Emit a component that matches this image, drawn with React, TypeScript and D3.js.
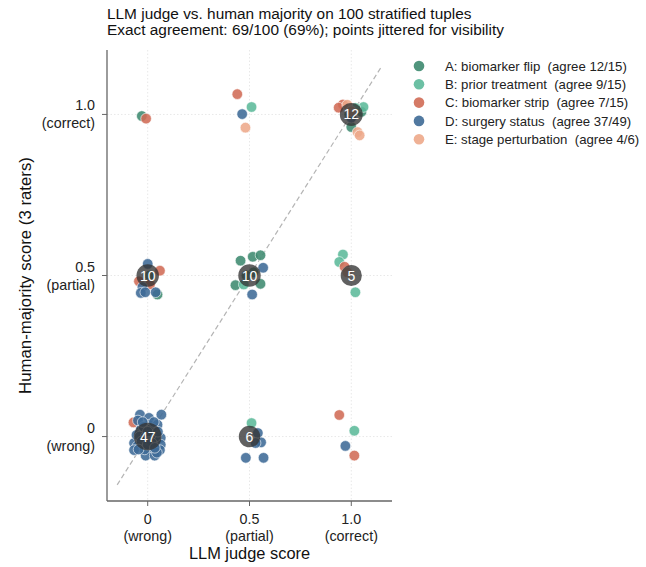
import React from "react";
import * as d3 from "d3";

const categories = ["A", "B", "C", "D", "E"];
const legendLabels = [
  "A: biomarker flip  (agree 12/15)",
  "B: prior treatment  (agree 9/15)",
  "C: biomarker strip  (agree 7/15)",
  "D: surgery status  (agree 37/49)",
  "E: stage perturbation  (agree 4/6)",
];
const colors = ["#3d8a6f", "#5cb99a", "#d06b55", "#3e6a96", "#eda88a"];

// [llm score, human score, jitter x, jitter y]
const pointsA = [
  [0, 0, -0.01, 0.01], [0, 0, 0.02, -0.01],
  [0.5, 0.5, -0.044, 0.046], [0.5, 0.5, 0.016, 0.058], [0.5, 0.5, 0.054, 0.063],
  [0.5, 0.5, -0.069, -0.03], [0.5, 0.5, 0.054, -0.026], [0.5, 0.5, 0.02, 0.01],
  [0.5, 0.5, -0.015, 0.0],
  [1, 1, 0.05, 0.008], [1, 1, 0, -0.039], [1, 1, -0.01, 0.0],
  [0, 0.5, 0.048, -0.059], [0, 0.5, 0.01, 0.0],
  [0, 1, -0.029, -0.005],
];
const pointsB = [
  [0, 0, 0.01, 0.02], [0, 0, -0.02, 0.0], [0, 0, 0.03, -0.02],
  [0, 0, -0.01, -0.03], [0, 0, 0.0, 0.03], [0, 0, -0.03, 0.015],
  [0.5, 0.5, -0.028, -0.028],
  [1, 1, 0.06, 0.023], [1, 1, 0.02, 0.02],
  [1, 0.5, -0.041, 0.065], [1, 0.5, -0.059, 0.042], [1, 0.5, 0.02, -0.052],
  [0.5, 1, 0.01, 0.023],
  [1, 0, 0.015, 0.018],
  [0.5, 0, 0.01, 0.042],
];
const pointsC = [
  [0, 0, -0.07, 0.044], [0, 0, 0.039, 0.011], [0, 0, 0.031, -0.015],
  [0, 0, -0.02, 0.01], [0, 0, 0.0, -0.02],
  [1, 1, -0.041, 0.031], [1, 1, -0.062, 0.021],
  [0, 0.5, 0.06, 0.015], [0, 0.5, -0.043, -0.018], [0, 0.5, 0.011, -0.028],
  [0, 1, -0.008, -0.013],
  [0.5, 1, -0.06, 0.063],
  [1, 0, -0.059, 0.067], [1, 0, 0.015, -0.059],
  [1, 0.5, -0.033, 0.027],
];
const pointsD = [
  [0, 0, -0.038, 0.068], [0, 0, 0.006, 0.058], [0, 0, 0.067, 0.068],
  [0, 0, -0.048, 0.05], [0, 0, 0.006, 0.037], [0, 0, 0.048, 0.037],
  [0, 0, -0.034, 0.022], [0, 0, 0.064, -0.004], [0, 0, -0.067, -0.02],
  [0, 0, -0.051, -0.03], [0, 0, 0.064, -0.025], [0, 0, -0.067, -0.042],
  [0, 0, 0.015, -0.043], [0, 0, 0.06, -0.042], [0, 0, -0.01, -0.059],
  [0, 0, 0.034, -0.059], [0, 0, -0.055, 0.005], [0, 0, 0.045, -0.05],
  [0, 0, -0.02, 0.03], [0, 0, 0.02, 0.025], [0, 0, -0.04, 0.0],
  [0, 0, 0.04, 0.0], [0, 0, -0.01, 0.0], [0, 0, 0.015, 0.005],
  [0, 0, -0.03, -0.015], [0, 0, 0.02, -0.02], [0, 0, 0.0, 0.015],
  [0, 0, -0.015, -0.04], [0, 0, 0.03, 0.045], [0, 0, -0.025, 0.045],
  [0, 0, 0.05, 0.015], [0, 0, -0.045, -0.04], [0, 0, 0.0, -0.025],
  [0, 0, 0.035, -0.035],
  [0.5, 0.5, 0.067, 0.024], [0.5, 0.5, 0.013, -0.059],
  [1, 1, 0, -0.01],
  [0, 0.5, 0, 0.036], [0, 0.5, -0.026, -0.036], [0, 0.5, -0.034, -0.054],
  [0, 0.5, -0.012, -0.052], [0, 0.5, 0.039, -0.052],
  [0.5, 0, 0.041, 0.011], [0.5, 0, 0.057, -0.018], [0.5, 0, 0.03, -0.02],
  [0.5, 0, -0.018, -0.066], [0.5, 0, 0.069, -0.066],
  [1, 0, -0.029, -0.029],
  [0.5, 1, -0.036, 0.001],
];
const pointsE = [
  [1, 1, -0.02, 0.03], [1, 1, 0.031, -0.055], [1, 1, 0.041, -0.065], [1, 1, 0.0, 0.01],
  [0.5, 1, -0.02, -0.041],
  [1, 0.5, -0.02, 0.01],
];
const seriesPoints = [pointsA, pointsB, pointsC, pointsD, pointsE];

// agreement / count bubbles
const bubbleLlm = [0, 0, 0.5, 1, 0.5, 1];
const bubbleHuman = [0, 0.5, 0.5, 1, 0, 0.5];
const bubbleCount = [47, 10, 10, 12, 6, 5];

const tickValues = [0, 0.5, 1];
const xTickLabels = [["0", "(wrong)"], ["0.5", "(partial)"], ["1.0", "(correct)"]];
const yTickLabels = [["0", "(wrong)"], ["0.5", "(partial)"], ["1.0", "(correct)"]];

const W = 646;
const H = 567;
const margin = { left: 107, right: 254, top: 50, bottom: 66 };
const font = "'Liberation Sans', Arial, Helvetica, sans-serif";

export default function App() {
  const x = d3.scaleLinear().domain([-0.2, 1.2]).range([margin.left, W - margin.right]);
  const y = d3.scaleLinear().domain([-0.2, 1.2]).range([H - margin.bottom, margin.top]);
  const r = d3.scaleSqrt().domain([0, 50]).range([9, 14]);
  const x0 = margin.left;
  const y0 = H - margin.bottom;

  return (
    <svg
      width={W}
      height={H}
      style={{ position: "absolute", left: 0, top: 0, fontFamily: font }}
    >
      <rect width={W} height={H} fill="#fff" />
      <text x={x0} y={18.5} fontSize={15.4} fill="#111">
        LLM judge vs. human majority on 100 stratified tuples
      </text>
      <text x={x0} y={35} fontSize={15.4} fill="#111">
        Exact agreement: 69/100 (69%); points jittered for visibility
      </text>

      {/* grid */}
      {tickValues.map((t) => (
        <g key={"g" + t}>
          <line x1={x(t)} x2={x(t)} y1={margin.top} y2={y0} stroke="#e8e8e8" strokeDasharray="1.5,2" />
          <line x1={x0} x2={W - margin.right} y1={y(t)} y2={y(t)} stroke="#e8e8e8" strokeDasharray="1.5,2" />
        </g>
      ))}

      {/* diagonal */}
      <line
        x1={x(-0.15)}
        y1={y(-0.15)}
        x2={x(1.15)}
        y2={y(1.15)}
        stroke="#b5b5b5"
        strokeWidth={1.2}
        strokeDasharray="5,3"
      />

      {/* points */}
      {seriesPoints.map((pts, i) => (
        <g key={categories[i]}>
          {pts.map((p, j) => (
            <circle
              key={j}
              cx={x(p[0] + p[2])}
              cy={y(p[1] + p[3])}
              r={5.3}
              fill={colors[i]}
              fillOpacity={0.88}
              stroke="#fff"
              strokeWidth={0.6}
            />
          ))}
        </g>
      ))}

      {/* bubbles */}
      {bubbleCount.map((n, i) => (
        <g key={"b" + i}>
          <circle cx={x(bubbleLlm[i])} cy={y(bubbleHuman[i])} r={r(n)} fill="#333" fillOpacity={0.78} />
          <text
            x={x(bubbleLlm[i])}
            y={y(bubbleHuman[i])}
            dy="0.36em"
            textAnchor="middle"
            fontSize={14}
            fill="#fff"
          >
            {n}
          </text>
        </g>
      ))}

      {/* axes */}
      <line x1={x0} x2={x0} y1={margin.top} y2={y0} stroke="#666" strokeWidth={1.3} />
      <line x1={x0} x2={W - margin.right} y1={y0} y2={y0} stroke="#666" strokeWidth={1.3} />
      {tickValues.map((t, i) => (
        <g key={"xt" + t}>
          <line x1={x(t)} x2={x(t)} y1={y0} y2={y0 + 5} stroke="#666" />
          <text x={x(t)} y={524} textAnchor="middle" fontSize={14.3} fill="#222">
            {xTickLabels[i][0]}
          </text>
          <text x={x(t)} y={541} textAnchor="middle" fontSize={14.3} fill="#222">
            {xTickLabels[i][1]}
          </text>
        </g>
      ))}
      {tickValues.map((t, i) => (
        <g key={"yt" + t}>
          <line x1={x0 - 5} x2={x0} y1={y(t)} y2={y(t)} stroke="#666" />
          <text x={95} y={y(t) - 9} dy="0.35em" textAnchor="end" fontSize={14.3} fill="#222">
            {yTickLabels[i][0]}
          </text>
          <text x={95} y={y(t) + 9} dy="0.35em" textAnchor="end" fontSize={14.3} fill="#222">
            {yTickLabels[i][1]}
          </text>
        </g>
      ))}
      <text x={x(0.5)} y={559} textAnchor="middle" fontSize={16.4} fill="#111">
        LLM judge score
      </text>
      <text
        transform={`translate(31,${y(0.5)}) rotate(-90)`}
        textAnchor="middle"
        fontSize={16.8}
        fill="#111"
      >
        Human-majority score (3 raters)
      </text>

      {/* legend */}
      {legendLabels.map((lab, i) => (
        <g key={"l" + i} transform={`translate(419,${66 + i * 18.3})`}>
          <circle r={5.3} fill={colors[i]} fillOpacity={0.9} />
          <text x={26} dy="0.35em" fontSize={13.2} fill="#222" style={{ whiteSpace: "pre" }}>
            {lab}
          </text>
        </g>
      ))}
    </svg>
  );
}
